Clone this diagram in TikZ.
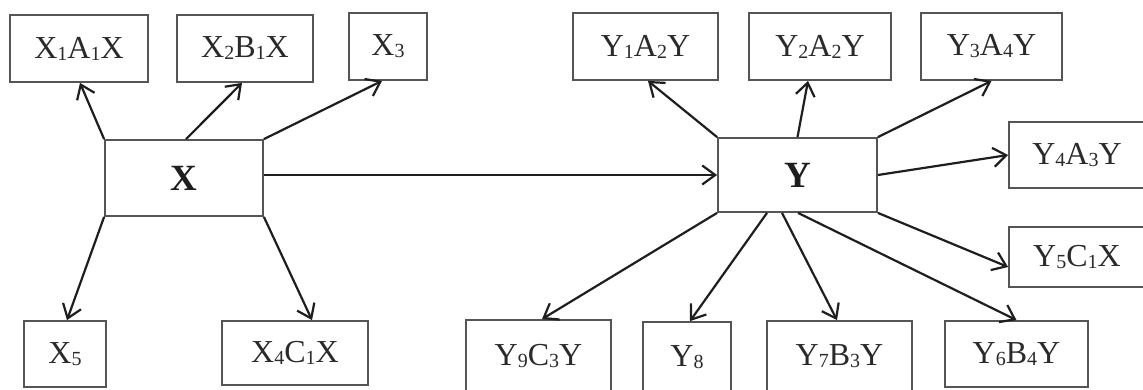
\documentclass[tikz,border=0pt]{standalone}
\usepackage{fontspec}
\setmainfont{Liberation Serif}
\usetikzlibrary{arrows.meta}
\newcommand\lowsub[1]{\raisebox{-2pt}{\fontsize{20}{20}\selectfont #1}}
\definecolor{boxline}{HTML}{555555}
\definecolor{arrline}{HTML}{1E1E1E}
\definecolor{txt}{HTML}{2A2A2A}
\tikzset{
  lbox/.style={draw=boxline, line width=1.8pt, inner sep=0pt, text=txt,
    font=\fontsize{32}{34}\selectfont},
  mainbox/.style={draw=boxline, line width=1.8pt, inner sep=0pt, text=arrline,
    font=\fontsize{37}{40}\selectfont\bfseries},
  conn/.style={draw=arrline, line width=2.2pt,
    -{Straight Barb[length=13pt,width=19pt]}},
}
\begin{document}
\begin{tikzpicture}[x=1pt,y=-1pt]
\clip (0,0) rectangle (1143,389);
\fill[white] (0,0) rectangle (1143,389);
% left group
\node[lbox, minimum width=138pt, minimum height=67pt] (x1) at (79,48.5) {X\lowsub{1}A\lowsub{1}X};
\node[lbox, minimum width=136pt, minimum height=67pt] (x2) at (245,48.5) {X\lowsub{2}B\lowsub{1}X};
\node[lbox, minimum width=78pt, minimum height=67pt] (x3) at (388,46.5) {X\lowsub{3}};
\node[mainbox, minimum width=158pt, minimum height=76pt] (X) at (184,178) {X};
\node[lbox, minimum width=82pt, minimum height=66pt] (x5) at (65,354) {X\lowsub{5}};
\node[lbox, minimum width=146pt, minimum height=64pt] (x4) at (295,353) {X\lowsub{4}C\lowsub{1}X};
% right group
\node[lbox, minimum width=145pt, minimum height=67pt] (y1) at (645.5,46.5) {Y\lowsub{1}A\lowsub{2}Y};
\node[lbox, minimum width=142pt, minimum height=67pt] (y2) at (820,46.5) {Y\lowsub{2}A\lowsub{2}Y};
\node[lbox, minimum width=141pt, minimum height=67pt] (y3) at (991.5,46.5) {Y\lowsub{3}A\lowsub{4}Y};
\node[mainbox, minimum width=159pt, minimum height=74pt] (Y) at (797.5,175) {Y};
\node[lbox, minimum width=136pt, minimum height=66pt] (y4) at (1077,155) {Y\lowsub{4}A\lowsub{3}Y};
\node[lbox, minimum width=136pt, minimum height=60pt] (y5) at (1077,257) {Y\lowsub{5}C\lowsub{1}X};
\node[lbox, minimum width=145pt, minimum height=72pt] (y9) at (538.5,356) {Y\lowsub{9}C\lowsub{3}Y};
\node[lbox, minimum width=88pt, minimum height=70pt] (y8) at (687,357) {Y\lowsub{8}};
\node[lbox, minimum width=145pt, minimum height=71pt] (y7) at (839.5,356.5) {Y\lowsub{7}B\lowsub{3}Y};
\node[lbox, minimum width=143pt, minimum height=66pt] (y6) at (1016.5,354) {Y\lowsub{6}B\lowsub{4}Y};
% connectors from X
\draw[conn] (X.north west) -- ([xshift=1pt]x1.south);
\draw[conn] ([xshift=2pt]X.north) -- ([xshift=-3pt]x2.south);
\draw[conn] (X.north east) -- ([xshift=-6pt]x3.south);
\draw[conn] (X.south west) -- ([xshift=2pt]x5.north);
\draw[conn] (X.south east) -- ([xshift=17pt]x4.north);
\draw[conn] (X.east |- Y.west) -- (Y.west);
% connectors from Y
\draw[conn] (Y.north west) -- ([xshift=2.5pt]y1.south);
\draw[conn] (Y.north) -- ([xshift=-12pt]y2.south);
\draw[conn] (Y.north east) -- (y3.south);
\draw[conn] (Y.east) -- (y4.west);
\draw[conn] (Y.south east) -- ([yshift=-10pt]y5.west);
\draw[conn] (Y.south west) -- ([xshift=3.5pt]y9.north);
\draw[conn] ([xshift=-30.5pt]Y.south) -- ([xshift=3pt]y8.north);
\draw[conn] ([xshift=-15.5pt]Y.south) -- ([xshift=-2.5pt]y7.north);
\draw[conn] ([xshift=0.5pt]Y.south) -- (y6.north);
\end{tikzpicture}
\end{document}
